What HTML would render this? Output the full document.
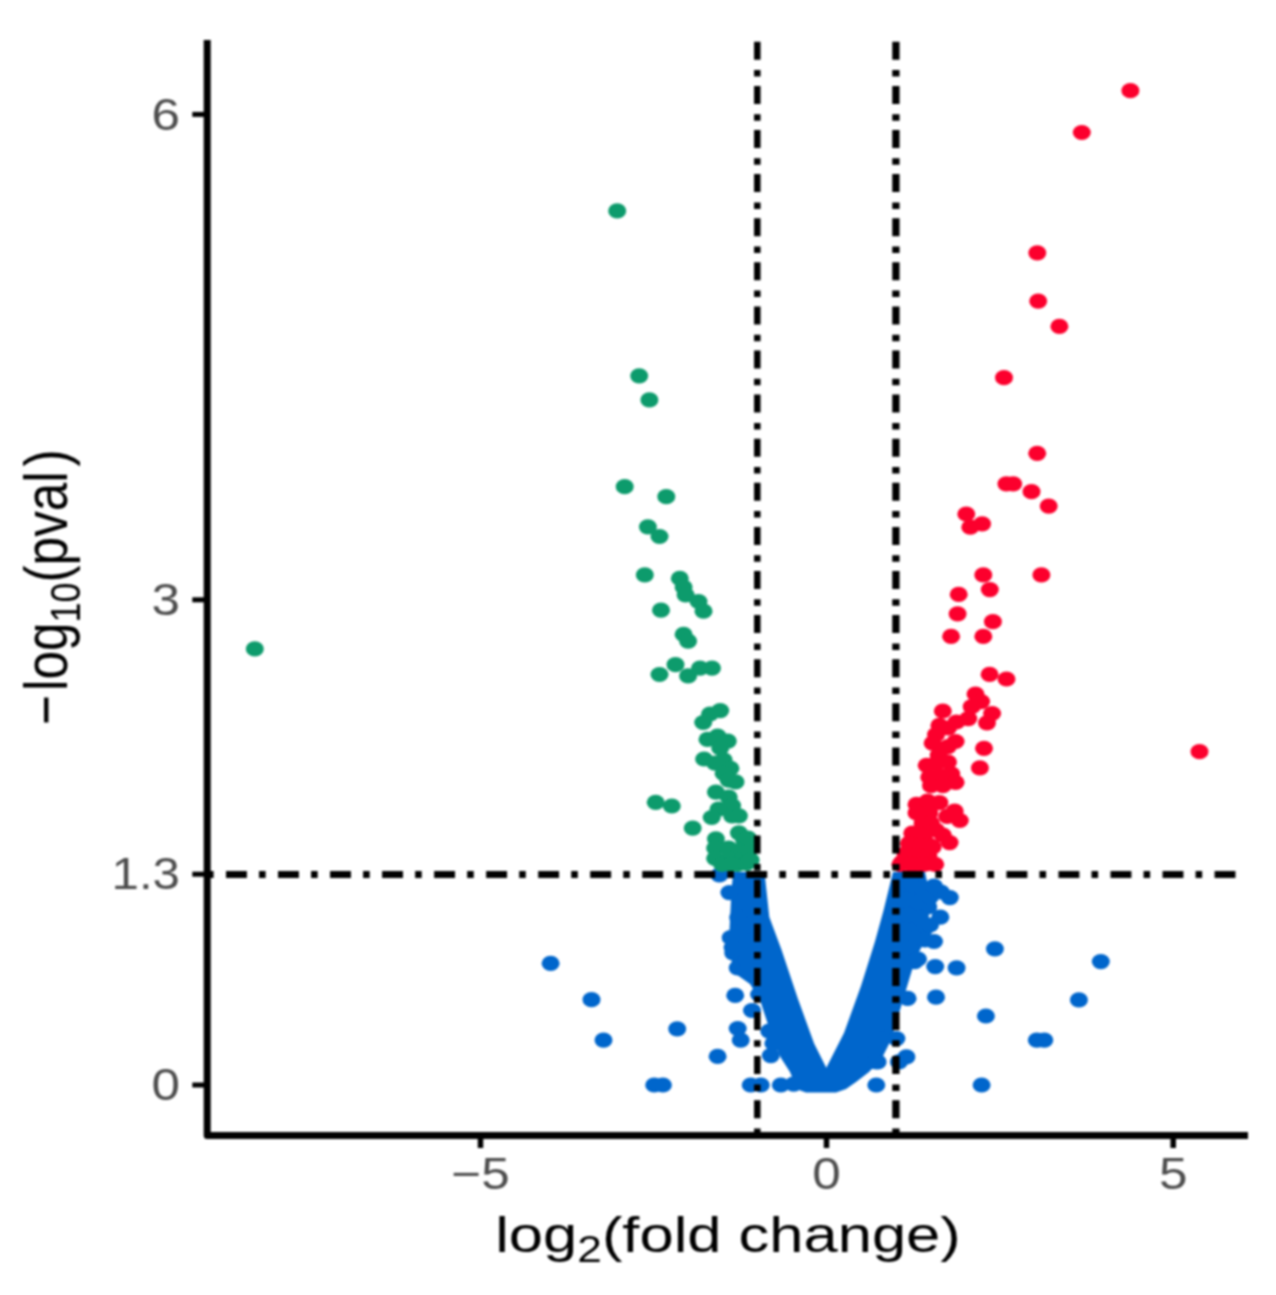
<!DOCTYPE html><html><head><meta charset="utf-8"><title>Volcano plot</title><style>html,body{margin:0;padding:0;background:#fff}svg{display:block;filter:blur(1.1px)}</style></head><body><svg width="1276" height="1295" viewBox="0 0 1276 1295">
<rect width="1276" height="1295" fill="#fff"/>
<g id="pts">
<g fill="#0066cc"><polygon points="733.0,872.0 731.0,900.0 729.0,940.0 733.0,972.0 750.0,984.0 760.0,1000.0 773.0,1040.0 781.0,1058.0 790.0,1072.0 795.0,1084.0 799.0,1090.0 806.0,1092.5 836.0,1092.5 846.0,1089.0 856.0,1082.0 869.0,1072.0 882.0,1058.0 891.0,1040.0 903.0,1000.0 915.0,960.0 925.0,940.0 931.0,900.0 925.0,872.0 893.0,872.0 883.4,911.0 875.0,941.5 861.0,986.0 844.0,1033.0 826.3,1067.8 814.1,1043.4 797.8,998.6 781.5,949.7 769.3,917.0 764.5,872.0"/><ellipse cx="550.6" cy="963.3" rx="9.0" ry="7.6"/><ellipse cx="591.5" cy="999.7" rx="9.0" ry="7.6"/><ellipse cx="603.5" cy="1040.1" rx="9.0" ry="7.6"/><ellipse cx="677.2" cy="1028.8" rx="9.0" ry="7.6"/><ellipse cx="717.6" cy="1056.4" rx="9.0" ry="7.6"/><ellipse cx="654.2" cy="1085.0" rx="9.0" ry="7.6"/><ellipse cx="662.9" cy="1085.0" rx="9.0" ry="7.6"/><ellipse cx="735.2" cy="995.4" rx="9.0" ry="7.6"/><ellipse cx="737.7" cy="1028.5" rx="9.0" ry="7.6"/><ellipse cx="740.7" cy="1040.1" rx="9.0" ry="7.6"/><ellipse cx="750.7" cy="1085.0" rx="9.0" ry="7.6"/><ellipse cx="760.8" cy="1085.0" rx="9.0" ry="7.6"/><ellipse cx="780.8" cy="1085.0" rx="9.0" ry="7.6"/><ellipse cx="719.4" cy="875.0" rx="9.0" ry="7.6"/><ellipse cx="729.4" cy="892.6" rx="9.0" ry="7.6"/><ellipse cx="738.2" cy="917.7" rx="9.0" ry="7.6"/><ellipse cx="730.7" cy="937.7" rx="9.0" ry="7.6"/><ellipse cx="733.2" cy="952.8" rx="9.0" ry="7.6"/><ellipse cx="737.7" cy="967.8" rx="9.0" ry="7.6"/><ellipse cx="752.0" cy="1010.5" rx="9.0" ry="7.6"/><ellipse cx="770.8" cy="1055.6" rx="9.0" ry="7.6"/><ellipse cx="745.7" cy="960.3" rx="9.0" ry="7.6"/><ellipse cx="740.8" cy="886.5" rx="9.0" ry="7.6"/><ellipse cx="742.8" cy="900.8" rx="9.0" ry="7.6"/><ellipse cx="746.9" cy="925.2" rx="9.0" ry="7.6"/><ellipse cx="732.6" cy="947.6" rx="9.0" ry="7.6"/><ellipse cx="746.9" cy="959.8" rx="9.0" ry="7.6"/><ellipse cx="750.9" cy="941.5" rx="9.0" ry="7.6"/><ellipse cx="759.1" cy="994.5" rx="9.0" ry="7.6"/><ellipse cx="769.3" cy="1031.2" rx="9.0" ry="7.6"/><ellipse cx="773.4" cy="1043.4" rx="9.0" ry="7.6"/><ellipse cx="793.7" cy="1084.1" rx="9.0" ry="7.6"/><ellipse cx="949.8" cy="897.6" rx="9.0" ry="7.6"/><ellipse cx="940.3" cy="917.2" rx="9.0" ry="7.6"/><ellipse cx="934.0" cy="941.5" rx="9.0" ry="7.6"/><ellipse cx="994.9" cy="948.8" rx="9.0" ry="7.6"/><ellipse cx="1100.8" cy="961.6" rx="9.0" ry="7.6"/><ellipse cx="914.7" cy="961.6" rx="9.0" ry="7.6"/><ellipse cx="935.2" cy="966.6" rx="9.0" ry="7.6"/><ellipse cx="956.6" cy="967.8" rx="9.0" ry="7.6"/><ellipse cx="907.6" cy="998.4" rx="9.0" ry="7.6"/><ellipse cx="936.0" cy="997.2" rx="9.0" ry="7.6"/><ellipse cx="1078.9" cy="999.9" rx="9.0" ry="7.6"/><ellipse cx="985.9" cy="1016.0" rx="9.0" ry="7.6"/><ellipse cx="896.4" cy="1038.6" rx="9.0" ry="7.6"/><ellipse cx="1036.8" cy="1040.1" rx="9.0" ry="7.6"/><ellipse cx="1044.3" cy="1040.1" rx="9.0" ry="7.6"/><ellipse cx="906.4" cy="1056.9" rx="9.0" ry="7.6"/><ellipse cx="898.9" cy="1061.9" rx="9.0" ry="7.6"/><ellipse cx="876.3" cy="1085.0" rx="9.0" ry="7.6"/><ellipse cx="981.6" cy="1085.0" rx="9.0" ry="7.6"/><ellipse cx="877.6" cy="1061.9" rx="9.0" ry="7.6"/><ellipse cx="882.6" cy="1025.5" rx="9.0" ry="7.6"/><ellipse cx="924.1" cy="929.3" rx="9.0" ry="7.6"/><ellipse cx="928.2" cy="906.9" rx="9.0" ry="7.6"/><ellipse cx="918.0" cy="959.0" rx="9.0" ry="7.6"/><ellipse cx="881.3" cy="1023.0" rx="9.0" ry="7.6"/><ellipse cx="875.2" cy="1061.7" rx="9.0" ry="7.6"/><ellipse cx="900.0" cy="885.0" rx="9.0" ry="7.6"/><ellipse cx="912.0" cy="884.0" rx="9.0" ry="7.6"/><ellipse cx="922.0" cy="888.0" rx="9.0" ry="7.6"/><ellipse cx="905.0" cy="900.0" rx="9.0" ry="7.6"/><ellipse cx="918.0" cy="902.0" rx="9.0" ry="7.6"/><ellipse cx="930.0" cy="897.0" rx="9.0" ry="7.6"/><ellipse cx="908.0" cy="915.0" rx="9.0" ry="7.6"/><ellipse cx="920.0" cy="918.0" rx="9.0" ry="7.6"/><ellipse cx="930.0" cy="925.0" rx="9.0" ry="7.6"/><ellipse cx="905.0" cy="930.0" rx="9.0" ry="7.6"/><ellipse cx="915.0" cy="938.0" rx="9.0" ry="7.6"/><ellipse cx="925.0" cy="940.0" rx="9.0" ry="7.6"/><ellipse cx="905.0" cy="948.0" rx="9.0" ry="7.6"/><ellipse cx="941.0" cy="892.0" rx="9.0" ry="7.6"/><ellipse cx="934.0" cy="886.0" rx="9.0" ry="7.6"/></g>
<g fill="#0d9b6c"><ellipse cx="254.8" cy="648.9" rx="9.0" ry="7.6"/><ellipse cx="617.2" cy="210.9" rx="9.0" ry="7.6"/><ellipse cx="639.2" cy="375.8" rx="9.0" ry="7.6"/><ellipse cx="649.4" cy="399.9" rx="9.0" ry="7.6"/><ellipse cx="624.7" cy="486.7" rx="9.0" ry="7.6"/><ellipse cx="666.3" cy="496.7" rx="9.0" ry="7.6"/><ellipse cx="647.9" cy="526.8" rx="9.0" ry="7.6"/><ellipse cx="659.5" cy="536.5" rx="9.0" ry="7.6"/><ellipse cx="644.8" cy="574.9" rx="9.0" ry="7.6"/><ellipse cx="679.8" cy="578.4" rx="9.0" ry="7.6"/><ellipse cx="683.6" cy="587.1" rx="9.0" ry="7.6"/><ellipse cx="685.6" cy="594.8" rx="9.0" ry="7.6"/><ellipse cx="698.5" cy="601.5" rx="9.0" ry="7.6"/><ellipse cx="661.0" cy="610.2" rx="9.0" ry="7.6"/><ellipse cx="703.5" cy="611.2" rx="9.0" ry="7.6"/><ellipse cx="683.6" cy="634.4" rx="9.0" ry="7.6"/><ellipse cx="688.1" cy="641.1" rx="9.0" ry="7.6"/><ellipse cx="675.5" cy="664.7" rx="9.0" ry="7.6"/><ellipse cx="659.5" cy="674.5" rx="9.0" ry="7.6"/><ellipse cx="688.1" cy="675.9" rx="9.0" ry="7.6"/><ellipse cx="700.0" cy="668.1" rx="9.0" ry="7.6"/><ellipse cx="712.0" cy="668.1" rx="9.0" ry="7.6"/><ellipse cx="720.2" cy="710.6" rx="9.0" ry="7.6"/><ellipse cx="710.0" cy="714.0" rx="9.0" ry="7.6"/><ellipse cx="703.2" cy="722.5" rx="9.0" ry="7.6"/><ellipse cx="717.6" cy="736.0" rx="9.0" ry="7.6"/><ellipse cx="707.5" cy="739.4" rx="9.0" ry="7.6"/><ellipse cx="727.8" cy="741.1" rx="9.0" ry="7.6"/><ellipse cx="720.2" cy="747.9" rx="9.0" ry="7.6"/><ellipse cx="704.1" cy="759.0" rx="9.0" ry="7.6"/><ellipse cx="715.1" cy="763.2" rx="9.0" ry="7.6"/><ellipse cx="723.6" cy="759.8" rx="9.0" ry="7.6"/><ellipse cx="730.4" cy="768.3" rx="9.0" ry="7.6"/><ellipse cx="723.6" cy="773.4" rx="9.0" ry="7.6"/><ellipse cx="735.5" cy="781.9" rx="9.0" ry="7.6"/><ellipse cx="728.7" cy="780.2" rx="9.0" ry="7.6"/><ellipse cx="715.9" cy="792.1" rx="9.0" ry="7.6"/><ellipse cx="728.7" cy="797.2" rx="9.0" ry="7.6"/><ellipse cx="732.1" cy="805.7" rx="9.0" ry="7.6"/><ellipse cx="718.5" cy="809.1" rx="9.0" ry="7.6"/><ellipse cx="711.7" cy="817.5" rx="9.0" ry="7.6"/><ellipse cx="732.1" cy="815.8" rx="9.0" ry="7.6"/><ellipse cx="738.9" cy="815.8" rx="9.0" ry="7.6"/><ellipse cx="655.7" cy="802.3" rx="9.0" ry="7.6"/><ellipse cx="671.8" cy="806.0" rx="9.0" ry="7.6"/><ellipse cx="692.7" cy="828.1" rx="9.0" ry="7.6"/><ellipse cx="715.9" cy="838.8" rx="9.0" ry="7.6"/><ellipse cx="738.9" cy="832.8" rx="9.0" ry="7.6"/><ellipse cx="744.0" cy="839.6" rx="9.0" ry="7.6"/><ellipse cx="715.1" cy="848.1" rx="9.0" ry="7.6"/><ellipse cx="728.7" cy="848.1" rx="9.0" ry="7.6"/><ellipse cx="740.6" cy="849.8" rx="9.0" ry="7.6"/><ellipse cx="715.1" cy="858.3" rx="9.0" ry="7.6"/><ellipse cx="728.7" cy="858.3" rx="9.0" ry="7.6"/><ellipse cx="742.3" cy="858.3" rx="9.0" ry="7.6"/><ellipse cx="737.2" cy="864.3" rx="9.0" ry="7.6"/><ellipse cx="746.5" cy="863.4" rx="9.0" ry="7.6"/><ellipse cx="722.0" cy="864.3" rx="9.0" ry="7.6"/><ellipse cx="731.0" cy="864.3" rx="9.0" ry="7.6"/><ellipse cx="749.0" cy="849.8" rx="9.0" ry="7.6"/><ellipse cx="750.7" cy="860.0" rx="9.0" ry="7.6"/><ellipse cx="748.0" cy="838.0" rx="9.0" ry="7.6"/></g>
<g fill="#fc002d"><ellipse cx="1130.4" cy="90.7" rx="9.0" ry="7.6"/><ellipse cx="1081.8" cy="132.5" rx="9.0" ry="7.6"/><ellipse cx="1037.3" cy="252.8" rx="9.0" ry="7.6"/><ellipse cx="1038.2" cy="301.1" rx="9.0" ry="7.6"/><ellipse cx="1059.4" cy="326.4" rx="9.0" ry="7.6"/><ellipse cx="1004.0" cy="377.7" rx="9.0" ry="7.6"/><ellipse cx="1037.2" cy="453.3" rx="9.0" ry="7.6"/><ellipse cx="1006.4" cy="483.8" rx="9.0" ry="7.6"/><ellipse cx="1013.2" cy="483.8" rx="9.0" ry="7.6"/><ellipse cx="1031.5" cy="491.7" rx="9.0" ry="7.6"/><ellipse cx="1048.7" cy="506.1" rx="9.0" ry="7.6"/><ellipse cx="966.3" cy="514.0" rx="9.0" ry="7.6"/><ellipse cx="970.3" cy="527.2" rx="9.0" ry="7.6"/><ellipse cx="982.1" cy="523.8" rx="9.0" ry="7.6"/><ellipse cx="983.3" cy="574.9" rx="9.0" ry="7.6"/><ellipse cx="1041.4" cy="574.9" rx="9.0" ry="7.6"/><ellipse cx="989.8" cy="589.6" rx="9.0" ry="7.6"/><ellipse cx="958.7" cy="594.4" rx="9.0" ry="7.6"/><ellipse cx="957.6" cy="613.8" rx="9.0" ry="7.6"/><ellipse cx="992.9" cy="621.7" rx="9.0" ry="7.6"/><ellipse cx="951.1" cy="636.4" rx="9.0" ry="7.6"/><ellipse cx="983.3" cy="636.4" rx="9.0" ry="7.6"/><ellipse cx="989.6" cy="674.4" rx="9.0" ry="7.6"/><ellipse cx="1006.5" cy="679.0" rx="9.0" ry="7.6"/><ellipse cx="975.5" cy="694.0" rx="9.0" ry="7.6"/><ellipse cx="981.1" cy="701.6" rx="9.0" ry="7.6"/><ellipse cx="971.7" cy="706.7" rx="9.0" ry="7.6"/><ellipse cx="992.1" cy="713.5" rx="9.0" ry="7.6"/><ellipse cx="942.8" cy="711.0" rx="9.0" ry="7.6"/><ellipse cx="987.0" cy="722.8" rx="9.0" ry="7.6"/><ellipse cx="968.3" cy="718.6" rx="9.0" ry="7.6"/><ellipse cx="956.4" cy="722.0" rx="9.0" ry="7.6"/><ellipse cx="939.4" cy="725.4" rx="9.0" ry="7.6"/><ellipse cx="948.0" cy="728.0" rx="9.0" ry="7.6"/><ellipse cx="936.0" cy="734.7" rx="9.0" ry="7.6"/><ellipse cx="955.6" cy="741.5" rx="9.0" ry="7.6"/><ellipse cx="932.7" cy="743.2" rx="9.0" ry="7.6"/><ellipse cx="948.0" cy="746.6" rx="9.0" ry="7.6"/><ellipse cx="984.0" cy="748.3" rx="9.0" ry="7.6"/><ellipse cx="938.6" cy="755.1" rx="9.0" ry="7.6"/><ellipse cx="926.7" cy="765.3" rx="9.0" ry="7.6"/><ellipse cx="936.0" cy="763.6" rx="9.0" ry="7.6"/><ellipse cx="948.0" cy="762.0" rx="9.0" ry="7.6"/><ellipse cx="979.9" cy="767.9" rx="9.0" ry="7.6"/><ellipse cx="951.3" cy="773.8" rx="9.0" ry="7.6"/><ellipse cx="929.3" cy="777.2" rx="9.0" ry="7.6"/><ellipse cx="941.0" cy="775.5" rx="9.0" ry="7.6"/><ellipse cx="955.6" cy="782.3" rx="9.0" ry="7.6"/><ellipse cx="931.0" cy="785.7" rx="9.0" ry="7.6"/><ellipse cx="942.8" cy="785.7" rx="9.0" ry="7.6"/><ellipse cx="916.5" cy="804.4" rx="9.0" ry="7.6"/><ellipse cx="927.6" cy="801.0" rx="9.0" ry="7.6"/><ellipse cx="939.4" cy="802.7" rx="9.0" ry="7.6"/><ellipse cx="954.7" cy="811.2" rx="9.0" ry="7.6"/><ellipse cx="916.5" cy="812.9" rx="9.0" ry="7.6"/><ellipse cx="929.3" cy="812.9" rx="9.0" ry="7.6"/><ellipse cx="959.8" cy="820.5" rx="9.0" ry="7.6"/><ellipse cx="947.1" cy="816.3" rx="9.0" ry="7.6"/><ellipse cx="922.5" cy="823.1" rx="9.0" ry="7.6"/><ellipse cx="912.3" cy="833.2" rx="9.0" ry="7.6"/><ellipse cx="924.2" cy="835.0" rx="9.0" ry="7.6"/><ellipse cx="942.8" cy="835.0" rx="9.0" ry="7.6"/><ellipse cx="949.6" cy="842.6" rx="9.0" ry="7.6"/><ellipse cx="908.9" cy="843.4" rx="9.0" ry="7.6"/><ellipse cx="920.8" cy="845.1" rx="9.0" ry="7.6"/><ellipse cx="929.3" cy="845.1" rx="9.0" ry="7.6"/><ellipse cx="905.5" cy="853.6" rx="9.0" ry="7.6"/><ellipse cx="917.4" cy="855.3" rx="9.0" ry="7.6"/><ellipse cx="928.4" cy="855.3" rx="9.0" ry="7.6"/><ellipse cx="902.1" cy="862.1" rx="9.0" ry="7.6"/><ellipse cx="914.0" cy="863.8" rx="9.0" ry="7.6"/><ellipse cx="925.9" cy="863.8" rx="9.0" ry="7.6"/><ellipse cx="935.2" cy="864.3" rx="9.0" ry="7.6"/><ellipse cx="900.4" cy="864.3" rx="9.0" ry="7.6"/><ellipse cx="910.6" cy="864.3" rx="9.0" ry="7.6"/><ellipse cx="922.5" cy="864.3" rx="9.0" ry="7.6"/><ellipse cx="1199.5" cy="751.7" rx="9.0" ry="7.6"/><ellipse cx="931.0" cy="823.0" rx="9.0" ry="7.6"/><ellipse cx="936.0" cy="830.0" rx="9.0" ry="7.6"/><ellipse cx="932.7" cy="846.8" rx="9.0" ry="7.6"/></g>
</g>
<g stroke="#000" fill="none" stroke-width="6.5">
<path d="M207 874.5H1246" stroke-dasharray="6.6 12.4 20.9 12.13" stroke-width="7.2"/>
<path d="M757.3 1135V40" stroke-dasharray="6.5 10.3 18 9.3" stroke-width="6.5"/>
<path d="M895.9 1135V40" stroke-dasharray="6.5 10.3 18 9.3" stroke-width="7.3"/>
</g>
<g stroke="#000" fill="none">
<path d="M207.2 40V1135.6H1248" stroke-width="7" stroke-linejoin="round"/>
<path d="M192.3 114.4H207" stroke-width="5"/>
<path d="M192.3 599.8H207" stroke-width="5"/>
<path d="M192.3 874.2H207" stroke-width="5"/>
<path d="M192.3 1085H207" stroke-width="5"/>
<path d="M480.5 1135V1148" stroke-width="5.5"/>
<path d="M826.5 1135V1148" stroke-width="5.5"/>
<path d="M1173.2 1135V1148" stroke-width="5.5"/>
</g>
<g font-family="Liberation Sans, Arial, sans-serif" fill="#4d4d4d" font-size="44">
<text transform="translate(180 129.79999999999998) scale(1.165 1)" text-anchor="end">6</text>
<text transform="translate(180 615.0) scale(1.165 1)" text-anchor="end">3</text>
<text transform="translate(180 889.4000000000001) scale(1.12 1)" text-anchor="end">1.3</text>
<text transform="translate(180 1100.2) scale(1.165 1)" text-anchor="end">0</text>
<text transform="translate(480.5 1188.7) scale(1.165 1)" text-anchor="middle">−5</text>
<text transform="translate(826.5 1188.7) scale(1.165 1)" text-anchor="middle">0</text>
<text transform="translate(1173.2 1188.7) scale(1.165 1)" text-anchor="middle">5</text>
</g>
<g font-family="Liberation Sans, Arial, sans-serif" fill="#000" font-size="50">
<text transform="translate(728 1251.8) scale(1.23 1)" text-anchor="middle">log<tspan font-size="36" dy="10">2</tspan><tspan dy="-10">(fold change)</tspan></text>
<text transform="translate(67.3 587.3) rotate(-90) scale(1.027 1.24)" text-anchor="middle">−<tspan dx="4">log</tspan><tspan font-size="35" dy="10">10</tspan><tspan dy="-10">(pval</tspan><tspan dx="4.5">)</tspan></text>
</g>
</svg></body></html>
